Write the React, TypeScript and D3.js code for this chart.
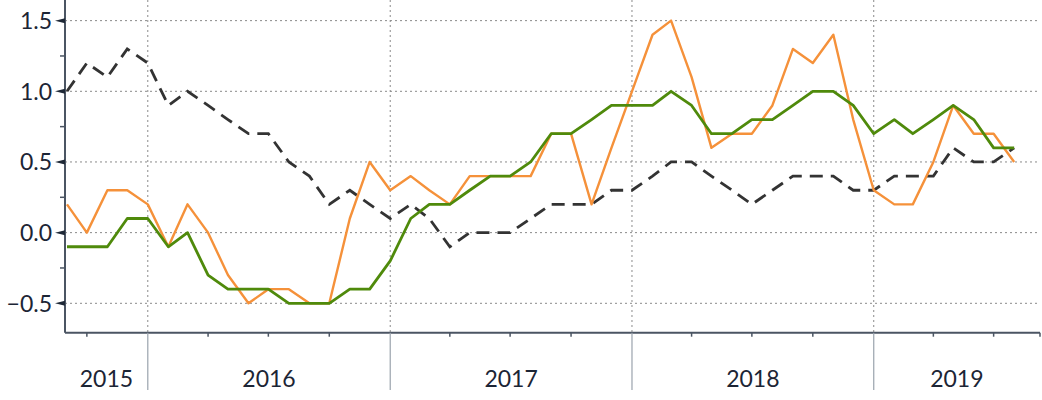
import React from 'react'
import * as d3 from 'd3'

// monthly points, Sep 2015 .. Aug 2019
const startMonth = new Date(2015, 8, 1)
const dashedSeries = [1.0, 1.2, 1.1, 1.3, 1.2, 0.9, 1.0, 0.9, 0.8, 0.7, 0.7, 0.5, 0.4, 0.2, 0.3, 0.2, 0.1, 0.2, 0.1, -0.1, 0.0, 0.0, 0.0, 0.1, 0.2, 0.2, 0.2, 0.3, 0.3, 0.4, 0.5, 0.5, 0.4, 0.3, 0.2, 0.3, 0.4, 0.4, 0.4, 0.3, 0.3, 0.4, 0.4, 0.4, 0.6, 0.5, 0.5, 0.6]
const orangeSeries = [0.2, 0.0, 0.3, 0.3, 0.2, -0.1, 0.2, 0.0, -0.3, -0.5, -0.4, -0.4, -0.5, -0.5, 0.1, 0.5, 0.3, 0.4, 0.3, 0.2, 0.4, 0.4, 0.4, 0.4, 0.7, 0.7, 0.2, 0.6, 1.0, 1.4, 1.5, 1.1, 0.6, 0.7, 0.7, 0.9, 1.3, 1.2, 1.4, 0.8, 0.3, 0.2, 0.2, 0.5, 0.9, 0.7, 0.7, 0.5]
const greenSeries = [-0.1, -0.1, -0.1, 0.1, 0.1, -0.1, 0.0, -0.3, -0.4, -0.4, -0.4, -0.5, -0.5, -0.5, -0.4, -0.4, -0.2, 0.1, 0.2, 0.2, 0.3, 0.4, 0.4, 0.5, 0.7, 0.7, 0.8, 0.9, 0.9, 0.9, 1.0, 0.9, 0.7, 0.7, 0.8, 0.8, 0.9, 1.0, 1.0, 0.9, 0.7, 0.8, 0.7, 0.8, 0.9, 0.8, 0.6, 0.6]
const yTicks = [-0.5, 0.0, 0.5, 1.0, 1.5]
const yMinorTicks = [-0.25, 0.25, 0.75, 1.25]
const years = [2015, 2016, 2017, 2018, 2019]

const W = 1042
const H = 400
const left = 65
const right = 1040
const axisY = 332.7
const font = 'Lato, "Open Sans", sans-serif'
const textColor = '#1c2535'

function App() {
  const months = dashedSeries.map((_, i) => d3.timeMonth.offset(startMonth, i))

  const x = d3.scaleTime()
    .domain([new Date(2015, 7, 29), new Date(2019, 8, 9)])
    .range([left, right])
  const y = d3.scaleLinear().domain([-0.708, 1.646]).range([axisY, 0])

  const line = d3.line<number>()
    .x((_, i) => x(months[i]))
    .y((d) => y(d))

  const yearStarts = years.slice(1).map((yr) => new Date(yr, 0, 1))
  const quarterTicks = d3.timeMonth.every(3)!.range(new Date(2015, 9, 1), new Date(2019, 8, 1))
    .filter((d) => d.getMonth() !== 0)
  const bounds = [x.range()[0], ...yearStarts.map((d) => x(d)), x.range()[1]]

  return (
    <svg width={W} height={H} style={{ position: 'absolute', left: 0, top: 0, background: '#fff' }}>
      {/* grid */}
      {yTicks.map((t) => (
        <line key={'g' + t} x1={left} x2={right} y1={y(t)} y2={y(t)}
          stroke="#8a8a8a" strokeWidth={1} strokeDasharray="2,3" />
      ))}
      {yearStarts.map((d, i) => (
        <line key={'vg' + i} x1={x(d)} x2={x(d)} y1={0} y2={axisY}
          stroke="#8a8a8a" strokeWidth={1} strokeDasharray="2,3" />
      ))}

      {/* series */}
      <path d={line(dashedSeries) ?? ''} fill="none" stroke="#333333" strokeWidth={2.8}
        strokeDasharray="13,8" />
      <path d={line(orangeSeries) ?? ''} fill="none" stroke="#f5913a" strokeWidth={2.4}
        strokeLinejoin="round" />
      <path d={line(greenSeries) ?? ''} fill="none" stroke="#4f8a0b" strokeWidth={2.8}
        strokeLinejoin="round" />

      {/* y axis */}
      <line x1={left} x2={left} y1={0} y2={axisY} stroke="#4b5563" strokeWidth={2} />
      {yMinorTicks.map((t) => (
        <line key={'m' + t} x1={left - 5} x2={left} y1={y(t)} y2={y(t)} stroke="#4b5563" strokeWidth={1.5} />
      ))}
      {yTicks.map((t) => (
        <g key={'t' + t}>
          <path d={`M${left - 10},${y(t)} L${left},${y(t) - 2.5} L${left},${y(t) + 2.5} Z`} fill="#1f2937" />
          <text x={52} y={y(t)} dy="0.36em" textAnchor="end" fontFamily={font} fontSize={23}
            fill={textColor}>{d3.format('.1f')(t)}</text>
        </g>
      ))}

      {/* x axis */}
      <line x1={left} x2={right} y1={axisY} y2={axisY} stroke="#4b5563" strokeWidth={2} />
      {quarterTicks.map((d, i) => (
        <line key={'q' + i} x1={x(d)} x2={x(d)} y1={axisY} y2={axisY + 4} stroke="#4b5563" strokeWidth={1.5} />
      ))}
      <line x1={right} x2={right} y1={axisY} y2={axisY + 4} stroke="#4b5563" strokeWidth={1.5} />
      {yearStarts.map((d, i) => (
        <line key={'ys' + i} x1={x(d)} x2={x(d)} y1={axisY} y2={390} stroke="#9aa3ad" strokeWidth={1.2} />
      ))}
      {years.map((yr, i) => (
        <text key={'yl' + yr} x={(bounds[i] + bounds[i + 1]) / 2} y={387} textAnchor="middle"
          fontFamily={font} fontSize={23} fill={textColor}>{yr}</text>
      ))}
    </svg>
  )
}

export default App
